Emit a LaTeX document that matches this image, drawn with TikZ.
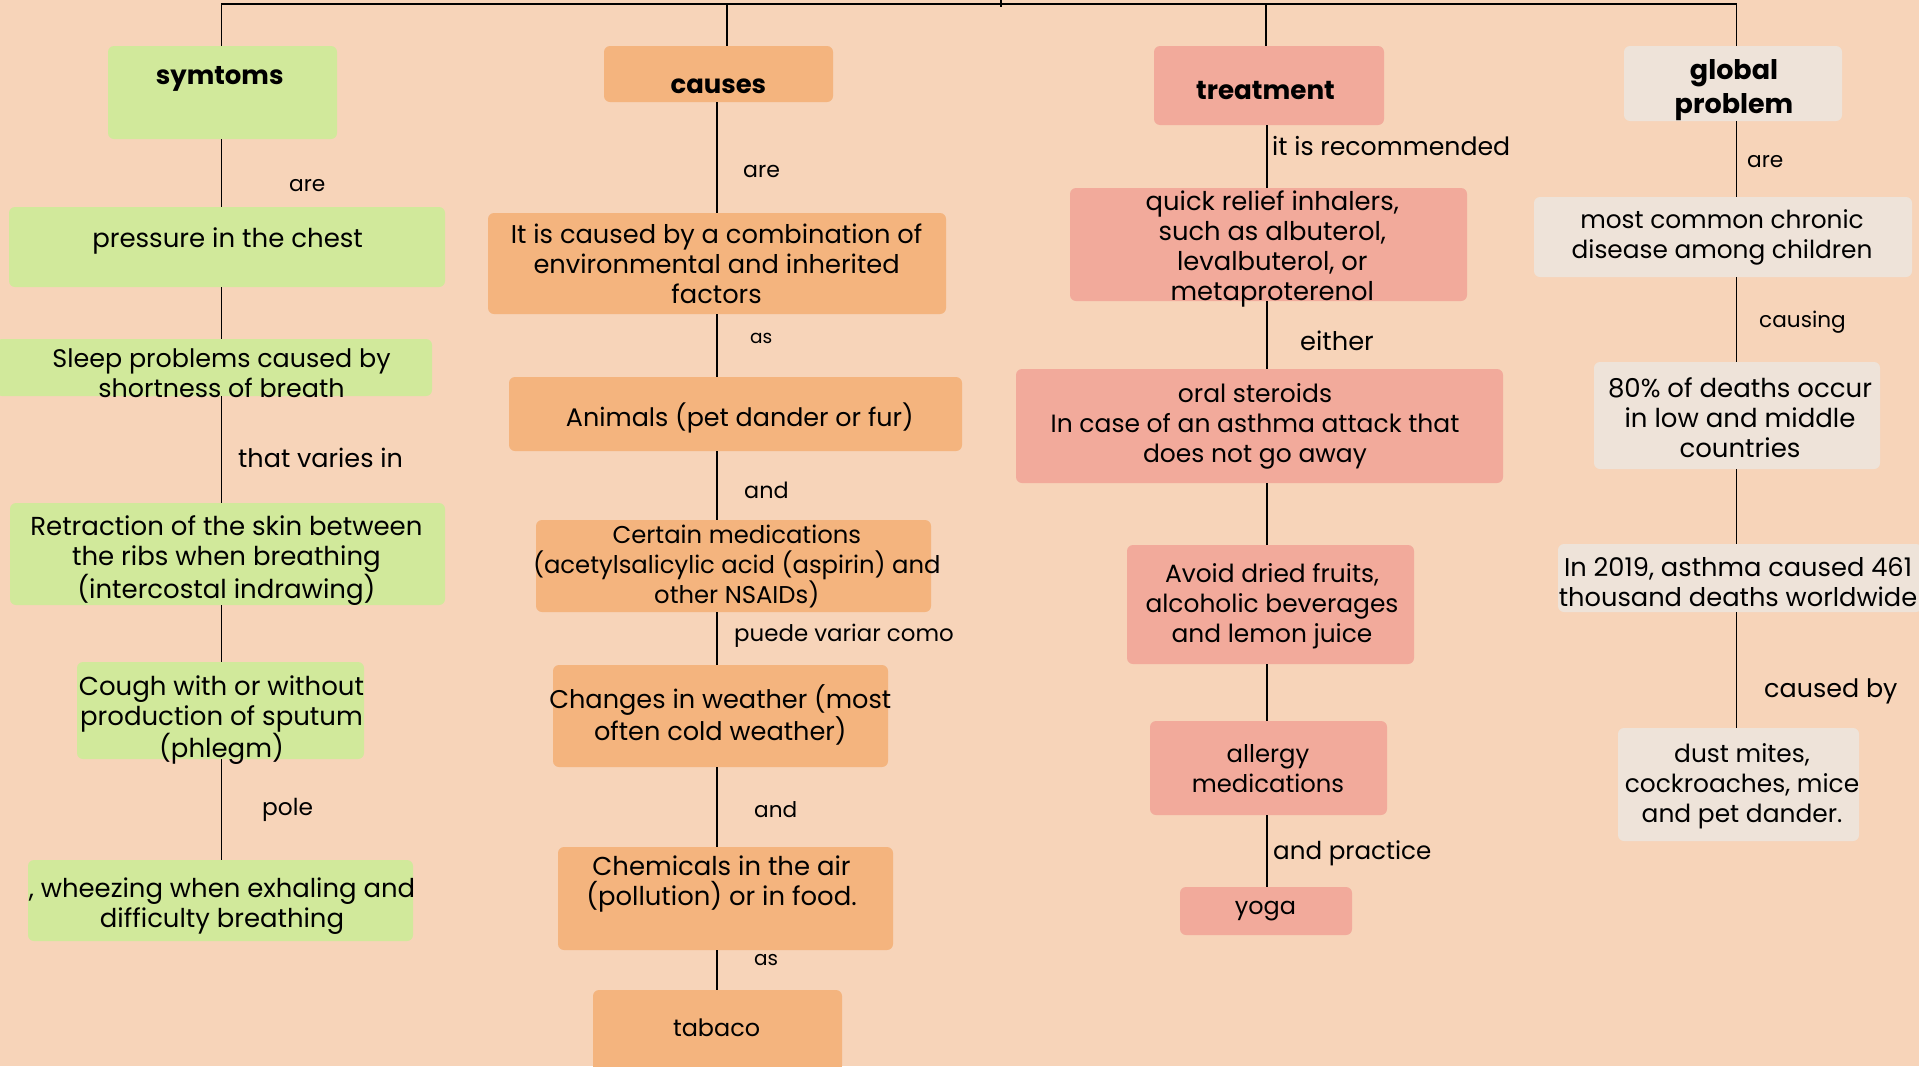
\documentclass[tikz,border=0pt]{standalone}
\usepackage{fontspec}
\setmainfont{Poppins}
\definecolor{bgc}{HTML}{F7D4B9}
\definecolor{gfill}{HTML}{D1E99B}
\definecolor{ofill}{HTML}{F4B47E}
\definecolor{sfill}{HTML}{F2AA9B}
\definecolor{bfill}{HTML}{EEE3D9}
\newcommand{\fs}[1]{\fontsize{#1}{30}\selectfont}
\newcommand{\hfs}[1]{\fontsize{#1}{34}\selectfont\bfseries}
\tikzset{
  box/.style={rectangle, rounded corners=6pt, inner sep=0pt},
  gbox/.style={box, fill=gfill},
  obox/.style={box, fill=ofill},
  sbox/.style={box, fill=sfill},
  bbox/.style={box, fill=bfill},
  txt/.style={inner sep=0pt, align=center, text=black},
  lbl/.style={anchor=west, inner sep=0pt, text=black},
  conn/.style={draw=black, line width=1.3pt}
}
\begin{document}
\begin{tikzpicture}[x=1pt,y=-1pt]
\useasboundingbox (0,0) rectangle (1919,1066);
\fill[bgc] (0,0) rectangle (1919,1066);

% ---------- column 1: symptoms ----------
\node[gbox, minimum width=229pt, minimum height=93pt] (symtoms) at (222.5,92.5) {};
\node[txt, font=\hfs{26}] (symtoms-t) at (219.7,78.5) {symtoms};
\node[gbox, minimum width=436pt, minimum height=80pt] (pressure) at (227,247) {};
\node[txt, font=\fs{26}] (pressure-t) at (227.6,240.5) {pressure in the chest};
\node[gbox, minimum width=436pt, minimum height=57pt] (sleep) at (214,367.5) {};
\node[txt, font=\fs{25.4}] (sleep-t) at (221.5,373.5) {Sleep problems caused by\\shortness of breath};
\node[gbox, minimum width=435pt, minimum height=102pt] (retraction) at (227.5,554) {};
\node[txt, font=\fs{26}] (retraction-t) at (226.4,560.5) {Retraction of the skin between\\the ribs when breathing\\(intercostal indrawing)};
\node[gbox, minimum width=287pt, minimum height=97pt] (cough) at (220.5,710.5) {};
\node[txt, font=\fs{26}] (cough-t) at (221.5,720) {Cough with or without\\production of sputum\\(phlegm)};
\node[gbox, minimum width=385pt, minimum height=81pt] (wheezing) at (220.5,900.5) {};
\node[txt, font=\fs{25.9}] (wheezing-t) at (222,906) {, wheezing when exhaling and\\difficulty breathing};

% ---------- column 2: causes ----------
\node[obox, minimum width=229pt, minimum height=56pt] (causes) at (718.5,74) {};
\node[txt, font=\hfs{25.9}] (causes-t) at (718.4,86.5) {causes};
\node[obox, minimum width=458pt, minimum height=101pt] (combination) at (717,263.5) {};
\node[txt, font=\fs{25.7}] (combination-t) at (716.6,264) {It is caused by a combination of\\environmental and inherited\\factors};
\node[obox, minimum width=453pt, minimum height=74pt] (animals) at (735.5,414) {};
\node[txt, font=\fs{25.4}] (animals-t) at (739.8,418) {Animals (pet dander or fur)};
\node[obox, minimum width=395pt, minimum height=92pt] (certain) at (733.5,566) {};
\node[txt, font=\fs{24.3}] (certain-t) at (736.8,566.5) {Certain medications\\(acetylsalicylic acid (aspirin) and\\other NSAIDs)};
\node[obox, minimum width=335pt, minimum height=102pt] (weather) at (720.5,716) {};
\node[txt, font=\fs{25.6}] (weather-t) at (720.3,715) {Changes in weather (most\\often cold weather)};
\node[obox, minimum width=335pt, minimum height=103pt] (chemicals) at (725.5,898.5) {};
\node[txt, font=\fs{25.9}] (chemicals-t) at (721.5,884) {Chemicals in the air\\(pollution) or in food.};
\node[obox, minimum width=249pt, minimum height=82pt] (tabaco) at (717.5,1031) {};
\node[txt, font=\fs{23.9}] (tabaco-t) at (716.6,1028) {tabaco};

% ---------- column 3: treatment ----------
\node[sbox, minimum width=230pt, minimum height=79pt] (treatment) at (1269,85.5) {};
\node[txt, font=\hfs{26.2}] (treatment-t) at (1265.5,91) {treatment};
\node[sbox, minimum width=397pt, minimum height=113pt] (quick) at (1268.5,244.5) {};
\node[txt, font=\fs{25.8}] (quick-t) at (1272.3,248.5) {quick relief inhalers,\\such as albuterol,\\levalbuterol, or\\metaproterenol};
\node[sbox, minimum width=487pt, minimum height=114pt] (oral) at (1259.5,426) {};
\node[txt, font=\fs{25}] (oral-t) at (1255,426.5) {oral steroids\\In case of an asthma attack that\\does not go away};
\node[sbox, minimum width=287pt, minimum height=119pt] (avoid) at (1270.5,604.5) {};
\node[txt, font=\fs{24.9}] (avoid-t) at (1272,606.5) {Avoid dried fruits,\\alcoholic beverages\\and lemon juice};
\node[sbox, minimum width=237pt, minimum height=94pt] (allergy) at (1268.5,768) {};
\node[txt, font=\fs{24.3}] (allergy-t) at (1268,769) {allergy\\medications};
\node[sbox, minimum width=172pt, minimum height=48pt] (yoga) at (1266,911) {};
\node[txt, font=\fs{23.9}] (yoga-t) at (1265.5,911.5) {yoga};

% ---------- column 4: global problem ----------
\node[bbox, minimum width=218pt, minimum height=75pt] (global) at (1733,83.5) {};
\node[txt, font=\hfs{27}] (global-t) at (1734,90.5) {global\\problem};
\node[bbox, minimum width=378pt, minimum height=80pt] (common) at (1723,237) {};
\node[txt, font=\fs{24.8}] (common-t) at (1722,237) {most common chronic\\disease among children};
\node[bbox, minimum width=286pt, minimum height=107pt] (eighty) at (1737,415.5) {};
\node[txt, font=\fs{26}] (eighty-t) at (1740,418) {80\% of deaths occur\\in low and middle\\countries};
\node[bbox, minimum width=364pt, minimum height=68pt] (y2019) at (1740,578) {};
\node[txt, font=\fs{25.7}] (y2019-t) at (1738,582) {In 2019, asthma caused 461\\thousand deaths worldwide};
\node[bbox, minimum width=241pt, minimum height=113pt] (dust) at (1738.5,784.5) {};
\node[txt, font=\fs{24.9}] (dust-t) at (1742,786) {dust mites,\\cockroaches, mice\\and pet dander.};

% ---------- top bar ----------
\coordinate (root) at (1001,0);
\coordinate (bar) at (1001,4);
\coordinate (c1) at (221.5,0);
\coordinate (c2) at (717,0);
\coordinate (c3) at (1267,0);
\coordinate (c4) at (1736.5,0);
\draw[conn] (root) -- ([yshift=-3pt]bar);
\draw[conn] (symtoms.north -| c1) -- (c1 |- bar) -- (c4 |- bar) -- (global.north -| c4);
\draw[conn] ([xshift=8.5pt]causes.north) -- ([xshift=8.5pt]causes.north |- bar);
\draw[conn] ([xshift=-3pt]treatment.north) -- ([xshift=-3pt]treatment.north |- bar);

% ---------- column 1 connectors ----------
\draw[conn] (symtoms.south -| c1) -- (pressure.north -| c1);
\draw[conn] (pressure.south -| c1) -- (sleep.north -| c1);
\draw[conn] (sleep.south -| c1) -- (retraction.north -| c1);
\draw[conn] (retraction.south -| c1) -- (cough.north -| c1);
\draw[conn] (cough.south -| c1) -- (wheezing.north -| c1);

% ---------- column 2 connectors ----------
\draw[conn] (causes.south -| c2) -- (combination.north -| c2);
\draw[conn] (combination.south -| c2) -- (animals.north -| c2);
\draw[conn] (animals.south -| c2) -- (certain.north -| c2);
\draw[conn] (certain.south -| c2) -- (weather.north -| c2);
\draw[conn] (weather.south -| c2) -- (chemicals.north -| c2);
\draw[conn] (chemicals.south -| c2) -- (tabaco.north -| c2);

% ---------- column 3 connectors ----------
\draw[conn] (treatment.south -| c3) -- (quick.north -| c3);
\draw[conn] (quick.south -| c3) -- (oral.north -| c3);
\draw[conn] (oral.south -| c3) -- (avoid.north -| c3);
\draw[conn] (avoid.south -| c3) -- (allergy.north -| c3);
\draw[conn] (allergy.south -| c3) -- (yoga.north -| c3);

% ---------- column 4 connectors ----------
\draw[conn] (global.south -| c4) -- (common.north -| c4);
\draw[conn] (common.south -| c4) -- (eighty.north -| c4);
\draw[conn] (eighty.south -| c4) -- (y2019.north -| c4);
\draw[conn] (y2019.south -| c4) -- (dust.north -| c4);

% ---------- connector labels ----------
\node[lbl, font=\fs{21.7}] (l1a) at (289,186) {are};
\node[lbl, font=\fs{25.5}] (l1b) at (238,458) {that varies in};
\node[lbl, font=\fs{23.3}] (l1c) at (262,810) {pole};
\node[lbl, font=\fs{22}] (l2a) at (743,171) {are};
\node[lbl, font=\fs{18.5}] (l2b) at (750,338) {as};
\node[lbl, font=\fs{22.3}] (l2c) at (744,490) {and};
\node[lbl, font=\fs{22.9}] (l2d) at (734,636) {puede variar como};
\node[lbl, font=\fs{21.6}] (l2e) at (754,810) {and};
\node[lbl, font=\fs{20}] (l2f) at (754,960) {as};
\node[lbl, font=\fs{25.2}] (l3a) at (1272,146) {it is recommended};
\node[lbl, font=\fs{25.7}] (l3b) at (1300,341) {either};
\node[lbl, font=\fs{24.6}] (l3c) at (1273,853) {and practice};
\node[lbl, font=\fs{21.7}] (l4a) at (1747,161.5) {are};
\node[lbl, font=\fs{21.6}] (l4b) at (1759,322.5) {causing};
\node[lbl, font=\fs{25.4}] (l4c) at (1764,691) {caused by};
\end{tikzpicture}
\end{document}
